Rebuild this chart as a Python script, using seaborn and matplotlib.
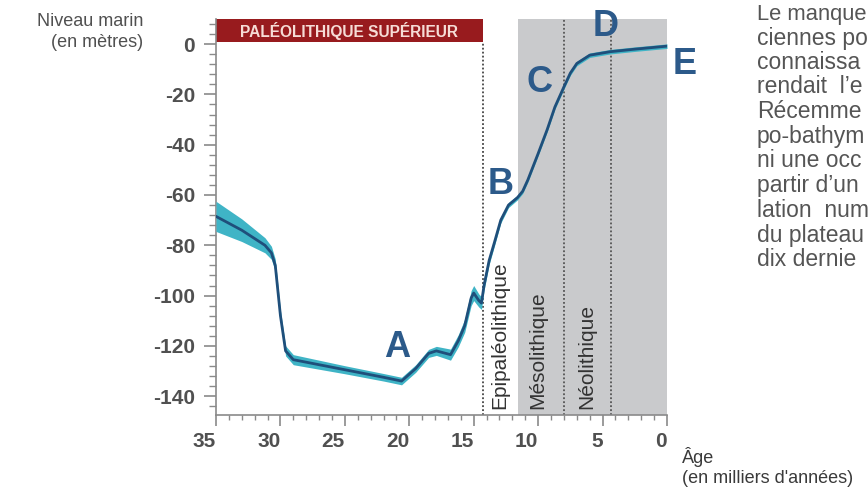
import numpy as np
import pandas as pd
import matplotlib
matplotlib.use("Agg")
import matplotlib.pyplot as plt
import seaborn as sns
from matplotlib import font_manager as fm
from matplotlib.ticker import MultipleLocator

# ---------------- data ----------------
age = [35.0, 33.0, 31.2, 30.7, 30.4, 30.0, 29.6, 29.0, 25.0, 22.0, 20.6, 19.5,
       18.5, 17.9, 16.8, 16.2, 15.7, 15.2, 15.0, 14.6, 14.4, 14.2, 13.8, 13.4,
       12.9, 12.3, 11.6, 11.2, 10.8, 10.0, 9.3, 8.7, 8.0, 7.5, 7.0, 6.0, 4.4,
       2.5, 0.0]
level = [-68.5, -74.0, -80.0, -83.0, -88.0, -108.0, -122.0, -125.5, -129.5,
         -132.5, -134.0, -129.0, -123.0, -122.0, -123.5, -118.0, -112.0, -101.0,
         -99.0, -102.0, -103.0, -96.0, -86.0, -79.0, -70.0, -64.0, -61.0, -58.5,
         -54.0, -43.5, -34.0, -25.0, -17.0, -11.5, -7.7, -4.4, -3.0, -2.0, -0.8]
halfwidth = [6.0, 4.5, 3.0, 2.6, 2.5, 2.2, 2.0, 2.0, 1.6, 1.5, 1.5, 1.5,
             1.6, 1.8, 2.2, 2.4, 2.6, 3.0, 3.0, 2.6, 2.5, 2.0, 1.6, 1.4,
             1.2, 1.0, 0.9, 0.9, 0.9, 0.9, 0.9, 0.9, 0.9, 0.9, 0.9, 0.9, 0.9,
             0.9, 0.9]

x_ticks = [35, 30, 25, 20, 15, 10, 5, 0]
x_tick_labels = ["35", "30", "25", "20", "15", "10", "5", "0"]
y_ticks = [0, -20, -40, -60, -80, -100, -120, -140]
y_tick_labels = ["0", "-20", "-40", "-60", "-80", "-100", "-120", "-140"]

period_bounds = [14.3, 11.55, 8.0, 4.35]     # Epipaléo start, gray start, Néo, limit
period_names = ["Epipaléolithique", "Mésolithique", "Néolithique"]
period_label_x = [12.95, 10.0, 6.2]

letters = ["A", "B", "C", "D", "E"]
letter_x = [20.95, 12.95, 9.86, 4.8, -1.4]
letter_y = [-120.5, -56.0, -15.1, 7.0, -8.0]

body_lines = ["Le manque", "ciennes po", "connaissa", "rendait  l\u2019e",
              "Récemme", "po-bathym", "ni une occ", "partir d\u2019un",
              "lation  num", "du plateau", "dix dernie"]
body_sizes = [15.8, 16.5, 16.5, 16.5, 16.5, 16.5, 16.5, 16.5, 16.5, 16.5, 16.5]

# ---------------- fonts ----------------
names = {f.name for f in fm.fontManager.ttflist}
def pick(*cands):
    for c in cands:
        if c in names:
            return c
    return "DejaVu Sans"
NARROW = pick("Liberation Sans Narrow", "DejaVu Sans Condensed", "Liberation Sans")
SANS = pick("Liberation Sans", "DejaVu Sans")

sns.set_style("ticks")
plt.rcParams["font.family"] = [SANS, "DejaVu Sans"]

df = pd.DataFrame({"age": age, "level": level})
lower = np.array(level) - np.array(halfwidth)
upper = np.array(level) + np.array(halfwidth)

fig = plt.figure(figsize=(8.68, 4.91), dpi=100)
ax = fig.add_axes([216 / 868, 1 - 415 / 491, (667 - 216) / 868, (415 - 19) / 491])

YMIN, YMAX = -147.5, 10.0
ax.set_xlim(35, 0)
ax.set_ylim(YMIN, YMAX)

# gray zone (Mésolithique -> present)
ax.axvspan(period_bounds[1], 0, color="#c9cacc", zorder=0, lw=0)
# red band Paléolithique supérieur
ax.fill_between([35, period_bounds[0]], 0.8, YMAX, color="#981b1e", zorder=1, lw=0)
ax.text((35 + period_bounds[0]) / 2, 5.4, "PALÉOLITHIQUE SUPÉRIEUR", ha="center", va="center",
        color="#f6dcd6", fontsize=11.2, fontweight="bold", family=[SANS, "DejaVu Sans"], zorder=2)

# dotted separators
ax.plot([period_bounds[0]] * 2, [YMIN, 0.8], ls=(0, (1, 1.2)), color="#444444", lw=1.3, zorder=2)
for b in period_bounds[2:]:
    ax.plot([b, b], [YMIN, YMAX], ls=(0, (1, 1.2)), color="#555555", lw=1.3, zorder=2)

# period names
for nm, px in zip(period_names, period_label_x):
    ax.text(px, -145.0, nm, rotation=90, ha="center", va="bottom", fontsize=15,
            color="#333333", zorder=3)

# uncertainty band and curve
ax.fill_between(age, lower, upper, color="#3fb4c6", lw=0, zorder=3)
sns.lineplot(data=df, x="age", y="level", ax=ax, color="#1f4f7b", lw=2.0, zorder=4,
             sort=False, estimator=None)

# letters
for L, lx, ly in zip(letters, letter_x, letter_y):
    ax.text(lx, ly, L, ha="center", va="center", fontsize=26, fontweight="bold",
            color="#2c5a8a", family=[NARROW, "DejaVu Sans"], clip_on=False, zorder=5)

# axes styling
for s in ["top", "right"]:
    ax.spines[s].set_visible(False)
for s in ["left", "bottom"]:
    ax.spines[s].set_color("#8a8a8a")
    ax.spines[s].set_linewidth(1.2)

ax.set_xticks(x_ticks, labels=x_tick_labels, fontfamily=NARROW, fontweight="bold",
              fontsize=15, color="#505050", ha="right")
ax.set_yticks(y_ticks, labels=y_tick_labels, fontfamily=NARROW, fontweight="bold",
              fontsize=15, color="#505050")
ax.xaxis.set_minor_locator(MultipleLocator(1))
ax.yaxis.set_minor_locator(MultipleLocator(4))
ax.tick_params(axis="x", which="major", length=8, width=1.2, color="#8a8a8a", pad=4, direction="out")
ax.tick_params(axis="x", which="minor", length=3.5, width=1.0, color="#8a8a8a", direction="out")
ax.tick_params(axis="y", which="major", length=9, width=1.2, color="#8a8a8a", pad=6, direction="out")
ax.tick_params(axis="y", which="minor", length=5, width=1.0, color="#8a8a8a", direction="out")
ax.set_xlabel("")
ax.set_ylabel("")

# axis titles
fig.text(143 / 868, 1 - 32 / 491, "Niveau marin\n(en mètres)", ha="right", va="center",
         multialignment="right", fontsize=13, color="#505050", linespacing=1.25)
fig.text(682 / 868, 1 - 467 / 491, "Âge\n(en milliers d'années)", ha="left", va="center",
         multialignment="left", fontsize=13, color="#3a3a3a", linespacing=1.25)

# body text (partly visible column at the right edge)
baselines = [20, 45, 69, 93, 118, 143, 167, 192, 217, 242, 266]
for t, b, fs in zip(body_lines, baselines, body_sizes):
    fig.text(757 / 868, 1 - b / 491, t, ha="left", va="baseline", fontsize=fs, color="#555555")

fig.savefig("out.png", dpi=100)
